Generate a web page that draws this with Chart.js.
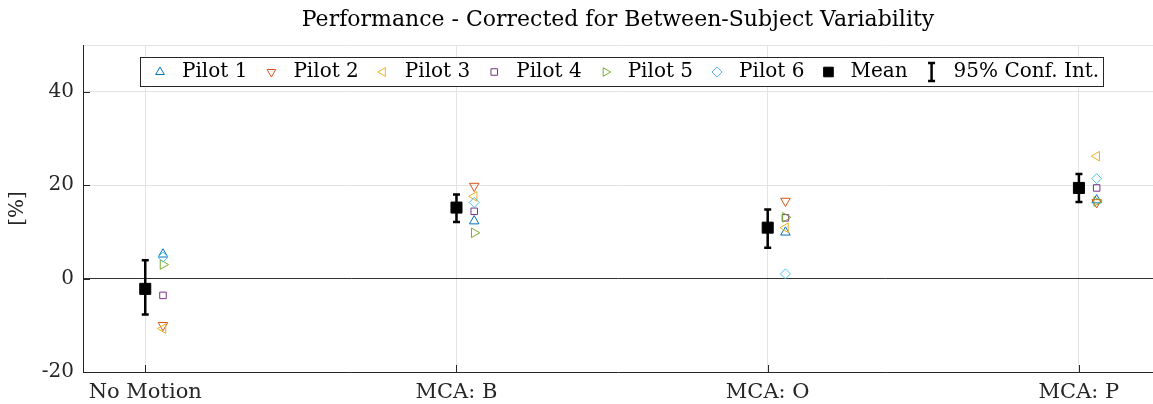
<!DOCTYPE html>
<html>
<head>
<meta charset="utf-8">
<script src="https://cdn.jsdelivr.net/npm/chart.js@4"></script>
<style>
  html, body { margin: 0; padding: 0; background: #fff; }
  #wrap { width: 1153px; height: 404px; }
</style>
</head>
<body>
<div id="wrap"><canvas id="perfChart" width="1153" height="404"></canvas></div>
<script>
// values
const categories = ['No Motion', 'MCA: B', 'MCA: O', 'MCA: P'];
const pilot1 = [5.2, 12.3, 9.9, 16.8];
const pilot2 = [-10.0, 19.8, 16.6, 16.3];
const pilot3 = [-10.7, 17.6, 10.9, 26.2];
const pilot4 = [-3.6, 14.4, 13.0, 19.4];
const pilot5 = [3.0, 9.8, 13.1, 16.5];
const pilot6 = [4.6, 16.3, 1.0, 21.4];
const meanValues = [-2.2, 15.2, 10.9, 19.4];
const ciLow = [-7.7, 12.1, 6.6, 16.4];
const ciHigh = [3.9, 18.0, 14.8, 22.4];
const yTicks = [-20, 0, 20, 40, 50];

const PILOT_SHIFT = 0.057;
const SERIF = "'DejaVu Serif', 'Liberation Serif', serif";

Chart.defaults.font.family = SERIF;
Chart.defaults.color = '#262626';

function pilotSet(label, values, color, style, rotation, radius, order) {
    return {
        label: label,
        data: values.map((v, i) => ({ x: i + 1 + PILOT_SHIFT, y: v })),
        borderColor: color,
        backgroundColor: 'rgba(0,0,0,0)',
        borderWidth: 1,
        pointStyle: style,
        rotation: rotation,
        pointRadius: radius,
        pointHoverRadius: radius,
        order: order
    };
}

function drawIBeam(ctx, px, top, bot, half) {
    ctx.beginPath();
    ctx.moveTo(px, top); ctx.lineTo(px, bot);
    ctx.moveTo(px - half, top); ctx.lineTo(px + half, top);
    ctx.moveTo(px - half, bot); ctx.lineTo(px + half, bot);
    ctx.stroke();
}

// MATLAB style inward tick marks
const innerTicks = {
    id: 'innerTicks',
    beforeDatasetsDraw(chart) {
        const { ctx, chartArea: a, scales: { x, y } } = chart;
        ctx.save();
        ctx.strokeStyle = '#262626';
        ctx.lineWidth = 1;
        ctx.beginPath();
        x.ticks.forEach(t => {
            const px = Math.round(x.getPixelForValue(t.value)) + 0.5;
            ctx.moveTo(px, a.bottom); ctx.lineTo(px, a.bottom - 7);
        });
        y.ticks.forEach(t => {
            if (t.value === 50) return;
            const py = Math.round(y.getPixelForValue(t.value)) + 0.5;
            ctx.moveTo(a.left, py); ctx.lineTo(a.left + 7, py);
        });
        ctx.stroke();
        ctx.restore();
    }
};

const errorBars = {
    id: 'errorBars',
    beforeDatasetsDraw(chart) {
        const { ctx, scales: { x, y } } = chart;
        ctx.save();
        ctx.strokeStyle = '#000';
        ctx.lineWidth = 2.5;
        meanValues.forEach((m, i) => {
            drawIBeam(ctx, x.getPixelForValue(i + 1), y.getPixelForValue(ciHigh[i]), y.getPixelForValue(ciLow[i]), 3.5);
        });
        ctx.restore();
    }
};

// boxed legend inside the axes, one row
const boxLegend = {
    id: 'boxLegend',
    afterDatasetsDraw(chart) {
        const { ctx, chartArea: a } = chart;
        const items = chart.data.datasets;
        ctx.save();
        ctx.font = '20px ' + SERIF;
        const widths = items.map(d => ctx.measureText(d.label).width);
        const gap = 24;
        const total = 20 + widths.reduce((s, w) => s + 22 + w, 0) + gap * (items.length - 1) + 4;
        const left = Math.round((a.left + a.right) / 2 - total / 2 + 4);
        const top = a.top + 12;
        const h = 29;
        ctx.fillStyle = '#fff';
        ctx.fillRect(left, top, total, h);
        ctx.strokeStyle = '#262626';
        ctx.lineWidth = 1;
        ctx.strokeRect(left + 0.5, top + 0.5, Math.round(total), h);

        const cy = top + h / 2 + 0.5;
        let mx = left + 20;
        items.forEach((d, i) => {
            if (d.isInterval) {
                ctx.strokeStyle = '#000';
                ctx.lineWidth = 2.5;
                drawIBeam(ctx, mx, cy - 9, cy + 9, 3.5);
            } else {
                ctx.strokeStyle = d.borderColor;
                ctx.fillStyle = d.backgroundColor;
                ctx.lineWidth = d.borderWidth;
                const r = d.label === 'Mean' ? 6.8 : (d.pointStyle === 'rect' ? 4.6 : 5);
                Chart.helpers.drawPoint(ctx, {
                    pointStyle: d.pointStyle,
                    rotation: d.rotation || 0,
                    radius: r,
                    borderWidth: d.borderWidth
                }, mx, cy);
            }
            ctx.fillStyle = '#000';
            ctx.textAlign = 'left';
            ctx.textBaseline = 'middle';
            ctx.fillText(d.label, mx + 22, cy);
            mx += 22 + widths[i] + gap;
        });
        ctx.restore();
    }
};

const datasets = [
    pilotSet('Pilot 1', pilot1, '#0072BD', 'triangle', 0, 5.5, 6),
    pilotSet('Pilot 2', pilot2, '#D95319', 'triangle', 180, 5.5, 5),
    pilotSet('Pilot 3', pilot3, '#EDB120', 'triangle', -90, 5.5, 4),
    pilotSet('Pilot 4', pilot4, '#7E2F8E', 'rect', 0, 4.6, 3),
    pilotSet('Pilot 5', pilot5, '#77AC30', 'triangle', 90, 5.5, 2),
    pilotSet('Pilot 6', pilot6, '#4DBEEE', 'rectRot', 0, 5, 1),
    {
        label: 'Mean',
        data: meanValues.map((v, i) => ({ x: i + 1, y: v })),
        backgroundColor: '#000',
        borderColor: '#000',
        borderWidth: 1,
        pointStyle: 'rect',
        pointRadius: 7.8,
        pointHoverRadius: 7.8,
        order: 0
    },
    {
        label: '95% Conf. Int.',
        data: [],
        isInterval: true,
        backgroundColor: '#000',
        borderColor: '#000',
        pointRadius: 0,
        order: 7
    }
];

const ctx = document.getElementById('perfChart').getContext('2d');
const perfChart = new Chart(ctx, {
    type: 'scatter',
    data: { datasets: datasets },
    plugins: [innerTicks, errorBars, boxLegend],
    options: {
        responsive: false,
        animation: false,
        devicePixelRatio: 1,
        layout: { autoPadding: false, padding: { left: 0, right: 0, top: 0, bottom: 0 } },
        plugins: {
            title: {
                display: true,
                fullSize: false,
                text: 'Performance - Corrected for Between-Subject Variability',
                color: '#000',
                font: { size: 22, weight: 'normal', family: SERIF, lineHeight: 1.2 },
                padding: { top: 7, bottom: 11.6 }
            },
            legend: { display: false },
            tooltip: { enabled: false }
        },
        scales: {
            x: {
                type: 'linear',
                min: 0.8,
                max: 4.238,
                afterBuildTicks: scale => {
                    scale.ticks = categories.map((c, i) => ({ value: i + 1 }));
                },
                afterFit: scale => { scale.height = 32; },
                ticks: {
                    callback: (value, index) => categories[index],
                    color: '#262626',
                    font: { size: 21, family: SERIF },
                    padding: 8,
                    maxRotation: 0
                },
                grid: { color: '#e3e3e3', drawTicks: false },
                border: { color: '#262626', width: 1 }
            },
            y: {
                min: -20,
                max: 50,
                afterBuildTicks: scale => {
                    scale.ticks = yTicks.map(v => ({ value: v }));
                },
                afterFit: scale => { scale.width = 83; },
                ticks: {
                    callback: v => (v === 50 ? '' : v),
                    color: '#262626',
                    font: { size: 20, family: SERIF },
                    padding: 9
                },
                grid: {
                    color: c => (c.tick && c.tick.value === 0 ? '#333333' : '#e3e3e3'),
                    drawTicks: false
                },
                border: { color: '#262626', width: 1 },
                title: {
                    display: true,
                    text: '[%]',
                    color: '#262626',
                    font: { size: 20, family: SERIF },
                    padding: { top: 6, bottom: 0 }
                }
            }
        }
    }
});
</script>
</body>
</html>
